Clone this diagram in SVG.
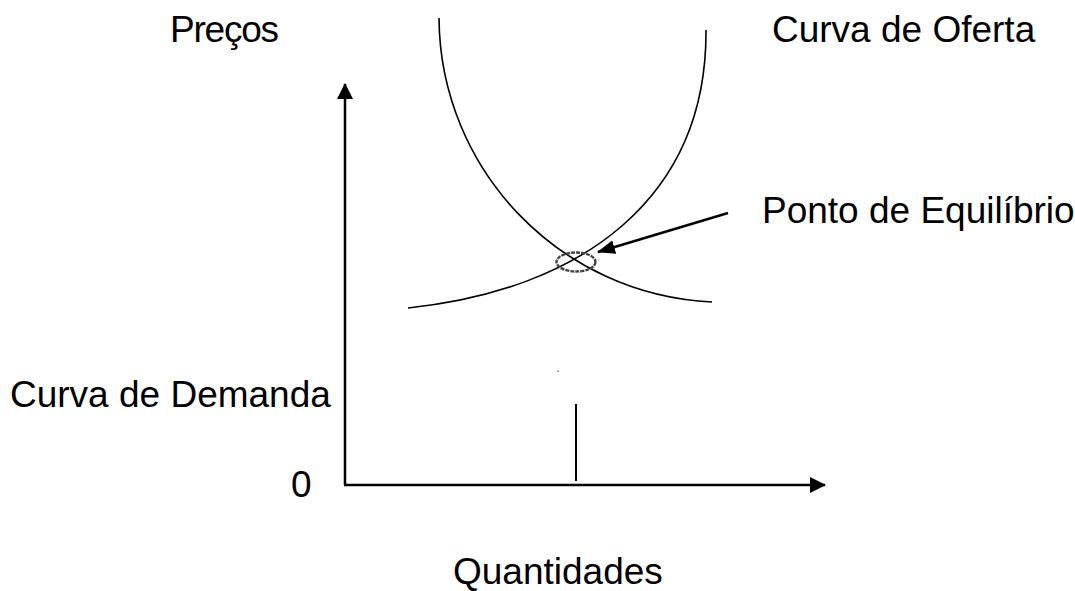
<svg xmlns="http://www.w3.org/2000/svg" width="1075" height="591" viewBox="0 0 1075 591">
<style>
text{font-family:"Liberation Sans",Arial,sans-serif;font-size:37px;fill:#000}
.curve{fill:none;stroke:#000;stroke-width:1.6}
.axis{fill:none;stroke:#000;stroke-width:2.5}
</style>
<defs>
<marker id="ah" viewBox="0 0 16 16" refX="15" refY="8" markerWidth="16" markerHeight="16" markerUnits="userSpaceOnUse" orient="auto">
<path d="M0,0 L16,8 L0,16 Z" fill="#000"/>
</marker>
<marker id="ah2" viewBox="0 0 18 14" refX="17" refY="7" markerWidth="18" markerHeight="14" markerUnits="userSpaceOnUse" orient="auto">
<path d="M0,0 L18,7 L0,14 Z" fill="#000"/>
</marker>
</defs>
<rect width="1075" height="591" fill="#fff"/>
<g id="connectors">
<line class="axis" x1="345" y1="485" x2="345" y2="84" marker-end="url(#ah)"/>
<line class="axis" x1="344" y1="485" x2="825" y2="485" marker-end="url(#ah)"/>
<line x1="576" y1="404" x2="576" y2="481" stroke="#000" stroke-width="2"/>
<rect x="557.5" y="370.5" width="1" height="1.5" fill="#333"/>
<line x1="728" y1="213" x2="598" y2="252" stroke="#000" stroke-width="2.5" marker-end="url(#ah2)"/>
</g>
<g id="demand-curve"><path class="curve" d="M439,18 C440,170 560,295 712,302"/></g>
<g id="supply-curve"><path class="curve" d="M706,30 C707,200 580,290 408,308"/></g>
<g id="equilibrium"><ellipse cx="576" cy="262" rx="19.5" ry="9.5" fill="none" stroke="#444" stroke-width="2.4" stroke-dasharray="4,1"/></g>
<g id="labels">
<text x="170" y="42" textLength="109">Preços</text>
<text x="772" y="42">Curva de Oferta</text>
<text x="762" y="223">Ponto de Equilíbrio</text>
<text x="10" y="407">Curva de Demanda</text>
<text x="291" y="497">0</text>
<text x="453" y="584">Quantidades</text>
</g>
</svg>
